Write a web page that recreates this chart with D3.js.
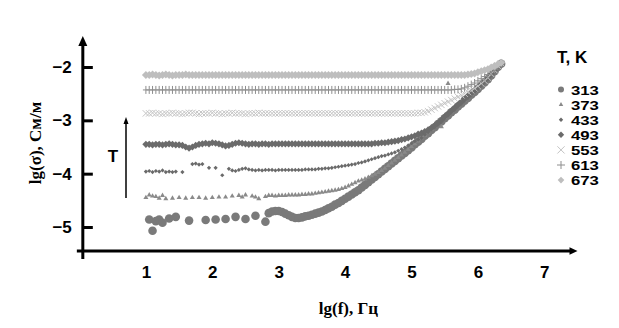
<!DOCTYPE html>
<html><head><meta charset="utf-8">
<script src="https://cdn.jsdelivr.net/npm/d3@7"></script>
<style>body{margin:0;background:#fff}</style>
</head><body>
<svg id="c" width="619" height="328"></svg>
<script>
// lg(f) grid
const lgF = [
1,1.05,1.1,1.15,1.2,1.25,1.3,1.35,1.4,1.45,1.5,1.55,1.6,1.65,1.7,1.75,1.8,1.85,1.9,1.95,
2,2.05,2.1,2.15,2.2,2.25,2.3,2.35,2.4,2.45,2.5,2.55,2.6,2.65,2.7,2.75,2.8,2.85,2.9,2.95,
3,3.05,3.1,3.15,3.2,3.25,3.3,3.35,3.4,3.45,3.5,3.55,3.6,3.65,3.7,3.75,3.8,3.85,3.9,3.95,
4,4.05,4.1,4.15,4.2,4.25,4.3,4.35,4.4,4.45,4.5,4.55,4.6,4.65,4.7,4.75,4.8,4.85,4.9,4.95,
5,5.05,5.1,5.15,5.2,5.25,5.3,5.35,5.4,5.45,5.5,5.55,5.6,5.65,5.7,5.75,5.8,5.85,5.9,5.95,
6,6.05,6.1,6.15,6.2,6.25,6.3,6.35];

const temps = ["313","373","433","493","553","613","673"];

const s313 = [
null,-4.86,-5.07,-4.89,-4.86,-4.92,null,-4.84,null,-4.81,null,null,null,-4.88,null,null,null,null,-4.87,null,
null,-4.86,null,null,-4.85,null,null,-4.81,null,null,-4.85,null,null,-4.79,null,null,-4.90,-4.74,-4.71,-4.70,
-4.70,-4.72,-4.75,-4.78,-4.81,-4.83,-4.83,-4.82,-4.80,-4.79,-4.77,-4.75,-4.73,-4.71,-4.68,-4.65,-4.62,-4.58,-4.55,-4.51,
-4.47,-4.43,-4.39,-4.35,-4.31,-4.26,-4.21,-4.16,-4.11,-4.06,-4.01,-3.96,-3.91,-3.86,-3.81,-3.76,-3.71,-3.66,-3.61,-3.56,
-3.51,-3.45,-3.40,-3.35,-3.29,-3.24,-3.18,-3.13,-3.07,-3.02,-2.96,-2.91,-2.85,-2.80,-2.74,-2.69,-2.63,-2.58,-2.52,-2.47,
-2.41,-2.35,-2.29,-2.23,-2.16,-2.08,-2.00,-1.94];

const s373 = [
-4.45,-4.40,-4.42,-4.43,-4.46,-4.41,-4.47,null,-4.46,null,-4.45,null,-4.46,null,-4.45,null,-4.45,null,-4.46,null,
-4.45,null,-4.44,null,-4.44,null,-4.42,null,-4.41,-4.44,-4.40,null,-4.42,-4.44,-4.47,null,-4.43,-4.41,-4.41,-4.42,
-4.41,-4.41,-4.41,-4.40,-4.40,-4.40,-4.40,-4.39,-4.39,-4.38,-4.38,-4.37,-4.36,-4.35,-4.34,-4.33,-4.32,-4.31,-4.30,-4.28,
-4.26,-4.23,-4.20,-4.17,-4.14,-4.12,-4.10,-4.07,-4.04,-4.01,-3.98,-3.94,-3.90,-3.85,-3.80,-3.75,-3.70,-3.65,-3.60,-3.55,
-3.49,-3.44,-3.39,-3.33,-3.28,-3.22,-3.17,-3.11,-3.06,-3.00,-2.95,-2.89,-2.84,-2.78,-2.73,-2.67,-2.62,-2.56,-2.51,-2.45,
-2.39,-2.33,-2.27,-2.21,-2.14,-2.06,-1.99,-1.93];
const s373extraF = [5.45,5.55];
const s373extraV = [-3.12,-2.31];

const s433 = [
-3.96,-3.95,-3.97,-3.95,-3.96,-3.94,-3.97,-3.96,-3.97,-3.96,null,-3.97,null,null,-3.82,-3.81,-3.83,-3.82,null,-3.89,
null,-3.89,null,-4.03,null,-3.91,-3.94,-3.95,-3.93,-3.91,-3.90,-3.92,-3.93,-3.94,-3.93,-3.94,-3.93,-3.93,-3.93,-3.94,
-3.93,-3.93,-3.93,-3.93,-3.93,-3.93,-3.93,-3.93,-3.92,-3.92,-3.92,-3.92,-3.91,-3.91,-3.90,-3.90,-3.89,-3.88,-3.87,-3.86,
-3.85,-3.84,-3.83,-3.82,-3.80,-3.79,-3.77,-3.75,-3.73,-3.71,-3.69,-3.67,-3.66,-3.64,-3.62,-3.60,-3.57,-3.54,-3.51,-3.47,
-3.43,-3.39,-3.36,-3.33,-3.27,-3.22,-3.16,-3.11,-3.05,-3.00,-2.94,-2.89,-2.83,-2.78,-2.72,-2.67,-2.61,-2.56,-2.50,-2.45,
-2.39,-2.33,-2.27,-2.21,-2.14,-2.06,-1.98,-1.93];

const s493 = [
-3.45,-3.45,-3.46,-3.45,-3.45,-3.46,-3.45,-3.44,-3.45,-3.46,-3.46,-3.47,-3.50,-3.52,-3.50,-3.47,-3.45,-3.44,-3.43,-3.44,
-3.42,-3.43,-3.44,-3.46,-3.48,-3.47,-3.45,-3.43,-3.42,-3.43,-3.44,-3.45,-3.44,-3.44,-3.45,-3.44,-3.44,-3.45,-3.44,-3.44,
-3.44,-3.44,-3.44,-3.44,-3.44,-3.44,-3.44,-3.44,-3.44,-3.44,-3.44,-3.44,-3.44,-3.44,-3.44,-3.44,-3.44,-3.44,-3.44,-3.44,
-3.44,-3.44,-3.44,-3.44,-3.44,-3.44,-3.44,-3.44,-3.44,-3.43,-3.43,-3.42,-3.42,-3.41,-3.40,-3.39,-3.38,-3.36,-3.35,-3.33,
-3.31,-3.29,-3.26,-3.24,-3.21,-3.18,-3.14,-3.10,-3.05,-3.00,-2.93,-2.88,-2.82,-2.77,-2.71,-2.66,-2.60,-2.55,-2.49,-2.44,
-2.38,-2.32,-2.26,-2.20,-2.13,-2.05,-1.98,-1.93];

const s553 = [
-2.87,-2.87,-2.86,-2.87,-2.87,-2.88,-2.87,-2.87,-2.86,-2.87,-2.87,-2.88,-2.87,-2.86,-2.86,-2.87,-2.88,-2.87,-2.87,-2.87,
-2.86,-2.87,-2.87,-2.88,-2.87,-2.87,-2.86,-2.87,-2.87,-2.87,-2.88,-2.87,-2.87,-2.87,-2.86,-2.87,-2.87,-2.87,-2.87,-2.87,
-2.87,-2.87,-2.87,-2.87,-2.87,-2.87,-2.87,-2.87,-2.87,-2.87,-2.87,-2.87,-2.87,-2.87,-2.87,-2.87,-2.87,-2.87,-2.87,-2.87,
-2.87,-2.87,-2.87,-2.87,-2.87,-2.87,-2.87,-2.87,-2.87,-2.87,-2.87,-2.87,-2.87,-2.87,-2.87,-2.87,-2.87,-2.87,-2.87,-2.87,
-2.87,-2.87,-2.86,-2.86,-2.85,-2.83,-2.80,-2.77,-2.74,-2.71,-2.68,-2.65,-2.62,-2.59,-2.56,-2.53,-2.50,-2.47,-2.44,-2.40,
-2.36,-2.31,-2.26,-2.20,-2.13,-2.06,-1.98,-1.93];

const s613 = [
-2.43,-2.43,-2.43,-2.43,-2.43,-2.43,-2.43,-2.43,-2.43,-2.43,-2.43,-2.43,-2.43,-2.43,-2.43,-2.43,-2.43,-2.43,-2.43,-2.43,
-2.43,-2.43,-2.43,-2.43,-2.43,-2.43,-2.43,-2.43,-2.43,-2.43,-2.43,-2.43,-2.43,-2.43,-2.43,-2.43,-2.43,-2.43,-2.43,-2.43,
-2.43,-2.43,-2.43,-2.43,-2.43,-2.43,-2.43,-2.43,-2.43,-2.43,-2.43,-2.43,-2.43,-2.43,-2.43,-2.43,-2.43,-2.43,-2.43,-2.43,
-2.43,-2.43,-2.43,-2.43,-2.43,-2.43,-2.43,-2.43,-2.43,-2.43,-2.43,-2.43,-2.43,-2.43,-2.43,-2.43,-2.43,-2.43,-2.43,-2.43,
-2.43,-2.43,-2.43,-2.43,-2.43,-2.43,-2.43,-2.43,-2.43,-2.43,-2.43,-2.43,-2.43,-2.42,-2.42,-2.41,-2.39,-2.36,-2.33,-2.30,
-2.26,-2.22,-2.18,-2.14,-2.09,-2.04,-1.98,-1.93];

const s673 = [
-2.15,-2.15,-2.14,-2.15,-2.16,-2.15,-2.14,-2.15,-2.16,-2.15,-2.15,-2.15,-2.14,-2.15,-2.15,-2.15,-2.15,-2.15,-2.15,-2.15,
-2.15,-2.15,-2.15,-2.15,-2.15,-2.15,-2.15,-2.15,-2.15,-2.15,-2.15,-2.15,-2.15,-2.15,-2.15,-2.15,-2.15,-2.15,-2.15,-2.15,
-2.15,-2.15,-2.15,-2.15,-2.15,-2.15,-2.15,-2.15,-2.15,-2.15,-2.15,-2.15,-2.15,-2.15,-2.15,-2.15,-2.15,-2.15,-2.15,-2.15,
-2.15,-2.15,-2.15,-2.15,-2.15,-2.15,-2.15,-2.15,-2.15,-2.15,-2.15,-2.15,-2.15,-2.15,-2.15,-2.15,-2.15,-2.15,-2.15,-2.15,
-2.15,-2.15,-2.15,-2.15,-2.15,-2.15,-2.15,-2.15,-2.15,-2.15,-2.15,-2.15,-2.15,-2.15,-2.15,-2.15,-2.15,-2.14,-2.13,-2.12,
-2.10,-2.08,-2.06,-2.04,-2.01,-1.98,-1.95,-1.92];

const xTicks = [1,2,3,4,5,6,7];
const yTicks = [-2,-3,-4,-5];

// ---------- drawing ----------
const svg = d3.select("#c");
const x = d3.scaleLinear().domain([0,7]).range([79.5,544.3]);
const y = d3.scaleLinear().domain([-2,-5]).range([67,227]);

const SANS = "'Liberation Sans', Arial, sans-serif";
const SERIF = "'Liberation Serif', 'Times New Roman', serif";

const mk = {
  circle: r => d3.symbol(d3.symbolCircle, Math.PI*r*r)(),
  triangle: s => d3.symbol(d3.symbolTriangle, s)(),
  diamond: h => `M0,${-h}L${h},0L0,${h}L${-h},0Z`,
  times: a => `M${-a},${-a}L${a},${a}M${-a},${a}L${a},${-a}`,
  plus: (v,w) => `M0,${-v}L0,${v}M${-w},0L${w},0`
};

const series = [
  {name:"313", vals:s313, path:mk.circle(4.3), fill:"#7a7a7a", stroke:"none", lpath:mk.circle(3)},
  {name:"373", vals:s373, path:mk.triangle(11), fill:"#8a8a8a", stroke:"none", lpath:mk.triangle(9)},
  {name:"433", vals:s433, path:mk.diamond(2.1), fill:"#6a6a6a", stroke:"none", lpath:mk.diamond(2.2)},
  {name:"493", vals:s493, path:mk.diamond(3.6), fill:"#6b6b6b", stroke:"none", lpath:mk.diamond(3.2)},
  {name:"553", vals:s553, path:mk.times(3.2), fill:"none", stroke:"#c4c4c4", lpath:mk.times(3.6)},
  {name:"613", vals:s613, path:mk.plus(4,3), fill:"none", stroke:"#8e8e8e", lpath:mk.plus(4,4)},
  {name:"673", vals:s673, path:mk.diamond(4), fill:"#bebebe", stroke:"none", lpath:mk.diamond(3.3)}
];

const gData = svg.append("g");
series.forEach(s => {
  const pts = lgF.map((f,i) => [f, s.vals[i]]).filter(p => p[1] !== null && p[1] !== undefined);
  if (s.name === "373") s373extraF.forEach((f,i) => pts.push([f, s373extraV[i]]));
  gData.append("g").selectAll("path").data(pts).join("path")
    .attr("d", s.path)
    .attr("transform", p => `translate(${x(p[0])},${y(p[1])})`)
    .attr("fill", s.fill)
    .attr("stroke", s.stroke)
    .attr("stroke-width", 1);
});

// axes
const axX = x(0.05), axY = y(-5.45);
const yTop = y(-1.42), yBot = y(-5.6);
const xLeft = x(-0.04), xRight = x(7.5);

svg.append("line").attr("x1",axX).attr("x2",axX).attr("y1",yTop+8).attr("y2",yBot)
  .attr("stroke","#000").attr("stroke-width",3);
svg.append("path").attr("d",`M${axX},${yTop}L${axX+4.5},${yTop+10}L${axX-4.5},${yTop+10}Z`).attr("fill","#000");
svg.append("line").attr("x1",xLeft).attr("x2",xRight-6).attr("y1",axY).attr("y2",axY)
  .attr("stroke","#000").attr("stroke-width",3);
svg.append("path").attr("d",`M${xRight},${axY}L${xRight-8},${axY-3.8}L${xRight-8},${axY+3.8}Z`).attr("fill","#000");

const gy = svg.append("g").attr("transform",`translate(${axX},0)`)
  .call(d3.axisLeft(y).tickValues(yTicks).tickSize(-10).tickPadding(11).tickFormat(d3.format("d")));
gy.select(".domain").remove();
gy.selectAll(".tick line").attr("stroke","#000").attr("stroke-width",3);
gy.selectAll(".tick text").attr("font-family",SANS).attr("font-weight","bold").attr("font-size",17).attr("fill","#000");

const gx = svg.append("g").attr("transform",`translate(0,${axY})`)
  .call(d3.axisBottom(x).tickValues(xTicks).tickSize(0).tickPadding(15).tickFormat(d3.format("d")));
gx.select(".domain").remove();
gx.selectAll(".tick text").attr("font-family",SANS).attr("font-weight","bold").attr("font-size",17).attr("fill","#000");

// axis titles
svg.append("text").attr("x", x(4.05)).attr("y", 314).attr("text-anchor","middle")
  .attr("font-family",SERIF).attr("font-weight","bold").attr("font-size",17).text("lg(f), Гц");
svg.append("text").attr("transform","translate(41,143) rotate(-90)").attr("text-anchor","middle")
  .attr("font-family",SERIF).attr("font-weight","bold").attr("font-size",17).text("lg(σ), См/м");

// T arrow annotation
svg.append("line").attr("x1",126).attr("x2",126).attr("y1",198).attr("y2",123)
  .attr("stroke","#000").attr("stroke-width",1.5);
svg.append("path").attr("d","M126,117L128.5,124L123.5,124Z").attr("fill","#000");
svg.append("text").attr("x",113).attr("y",162).attr("text-anchor","middle")
  .attr("font-family",SANS).attr("font-weight","bold").attr("font-size",17).text("T");

// legend
const lg = svg.append("g");
const legY0 = 89.5, legStep = 15.1;
lg.append("text").attr("x",557).attr("y",63)
  .attr("font-family",SANS).attr("font-weight","bold").attr("font-size",17).text("T, K");
series.forEach((s,i) => {
  const cy = legY0 + i*legStep;
  lg.append("path").attr("d", s.lpath).attr("transform",`translate(561,${cy})`)
    .attr("fill", s.fill).attr("stroke", s.stroke).attr("stroke-width",1);
  lg.append("text").attr("transform",`translate(571,${cy + 5}) scale(1.25,1)`)
    .attr("font-family",SANS).attr("font-weight","bold").attr("font-size",13.4).text(temps[i]);
});
</script>
</body></html>
